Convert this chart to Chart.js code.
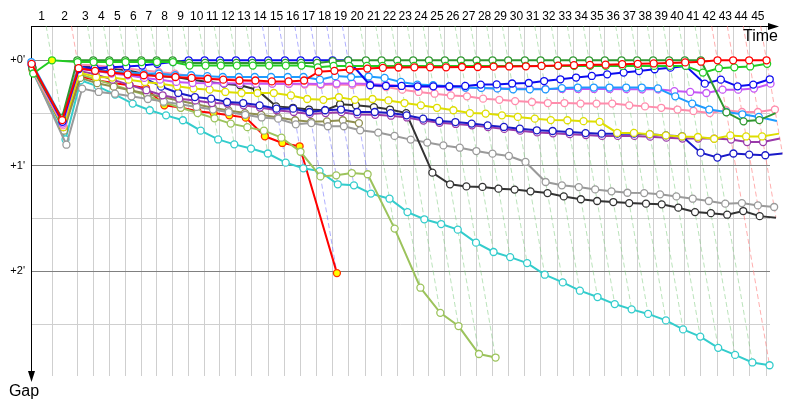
<!DOCTYPE html>
<html>
<head>
<meta charset="utf-8">
<script src="https://cdn.jsdelivr.net/npm/chart.js@4.4.0/dist/chart.umd.min.js"></script>
<style>
  body { margin: 0; background: #fff; }
</style>
</head>
<body>
<canvas id="gapChart" width="800" height="400"></canvas>
<script>
// leader lap times in seconds, lap 1 .. 45
const leaderLapTimes = [70, 84.3, 53.3, 53.3, 53.3, 53.3, 51.3, 53.3, 53.3, 53.3,
  51, 53.3, 53.3, 54.3, 55.7, 52.3, 53.3, 53.3, 52, 59,
  52.3, 52, 53.3, 52.3, 53.3, 53.3, 52.3, 53.3, 52, 55.7,
  52.3, 55.3, 53.3, 53.3, 52.3, 55.7, 52, 53.3, 53.3, 52.3,
  53.3, 55.7, 52, 53.3, 58];

const lapNumbers = ["1","2","3","4","5","6","7","8","9","10","11","12","13","14","15",
  "16","17","18","19","20","21","22","23","24","25","26","27","28","29","30",
  "31","32","33","34","35","36","37","38","39","40","41","42","43","44","45"];

// gap gridlines (seconds) and their labels
const gapTicks = [0, 30, 60, 90, 120, 150];
const gapLabels = { 0: "+0'", 60: "+1'", 120: "+2'" };

// gap to leader (s), index = lap, starting at lap 0 (the start)
const gapDarkGreen = [4.5, 33, 0, 0, 0, 0, 0, 0, 0, 1.5, 1.5, 1.5, 1.5, 1.5, 1.5, 1.5, 1.5, 1.5, 0.5,
  0, 0, 0, 0, 0, 0, 0, 0, 0, 0, 0, 0, 0, 0, 0, 0, 0, 0, 0, 0, 0, 0, 0, 29.6, 34.7, 34, 30];
const gapLime = [7.5, 0, 1, 1, 1, 1, 1, 1, 1, 3, 3, 3, 3, 3, 3, 3, 3, 4, 3.2,
  3.2, 3.2, 3.2, 3.2, 3.2, 3.2, 3.2, 3.2, 3.2, 3.2, 3.2, 3.2, 3.2, 3.2, 3.2, 3.2, 3.2, 3.2, 3.2, 3.2, 3.2, 3.2, 7, 4.5, 4, 3.5, 2];
const gapBlue = [3, 35, 5, 4.5, 4, 3.5, 3, 2, 1, 0, 0, 0, 0, 0, 0, 0, 0, 0, 0, 0,
  14.2, 14.6, 14.6, 14.8, 14.8, 14.8, 14.6, 13.8, 13.7, 13.2, 12.9, 11.8, 10.8, 9.8, 8.9, 8, 7, 6.1, 5.1, 4.2, 3.2,
  13.3, 11, 14.8, 13.8, 10.8];
const gapRed = [2, 34, 4.5, 6, 7, 8, 8.5, 9, 9.5, 10, 10.5, 11, 11.5, 11.5, 12, 12, 11.5, 6.5, 6, 5.3,
  4.7, 4.3, 4.1, 4, 4, 4, 3.8, 3.8, 3.6, 3.5, 3.4, 3.2, 3, 2.8, 2.6, 2.5, 2.2, 2, 1.8, 1.5, 1.2, 0.8, 0, 0, 0, 0];
const gapSkyBlue = [1, 33, 4, 6, 6.5, 7, 7.5, 7.5, 8.5, 8.5, 9, 9.5, 9.5, 9.5, 9.5, 9.5, 9.5, 11, 9, 9.5,
  9.2, 10, 12.3, 13.8, 14.2, 14.8, 15.5, 15.7, 16, 16.5, 16.5, 16.5, 15.8, 15.5, 15.5, 15.5, 15.5, 15.5, 16,
  20.5, 24.6, 28, 29.4, 30.7, 32.2, 34.5];
const gapViolet = [3.5, 36, 5, 6, 7.5, 8.5, 10, 11, 12.3, 12.9, 13, 13.1, 13.2, 13.3, 13.3, 13.3, 13.3, 13.5, 13.2, 13.2,
  13.5, 14, 14.5, 15, 15, 15.3, 15.5, 15.7, 16, 16, 16.2, 16.3, 16.3, 16.3, 16.3, 16.3, 16.4, 16.5, 16.5,
  17.5, 18, 18.6, 16.7, 16.7, 16.1, 13.3];
const gapPink = [6, 37, 2.5, 2.8, 3.8, 4.7, 5.7, 6.6, 7.6, 9.1, 10.4, 10.4, 11, 12.3, 13.3, 13.5, 13.8, 14, 13.8, 14,
  14.2, 15.2, 16.7, 18, 19, 20, 20.5, 21.8, 22.5, 23.2, 23.7, 24.3, 24.3, 24.6, 24.6, 24.6, 25.6, 26.2, 27,
  28, 28.8, 30, 28.4, 29.4, 29.4, 28];
const gapYellow = [5.5, 38, 7, 9.5, 9.8, 11, 12.3, 13.3, 14.8, 16.1, 16.7, 18, 18.6, 18.6, 18.6, 20, 22, 22.5, 21, 22.5,
  22, 22.8, 24.3, 25.6, 27, 28.4, 30, 30.3, 31.3, 32.2, 33.2, 34, 34.1, 34.6, 35, 41.3, 41.3, 42, 42.7,
  43.3, 43.6, 44.6, 42.7, 43.3, 43.3, 41.7];
const gapNavy = [2.5, 35, 3.5, 4.7, 6.6, 7.6, 10, 15, 18.6, 20.9, 21.8, 23.7, 24.3, 25.6, 27.5, 27.5, 29.4, 28.4, 28, 29.4,
  29.4, 30, 31.3, 33.2, 34.5, 35.1, 36, 37, 37.9, 38.9, 39.8, 40.2, 40.8, 41.4, 41.7, 41.7, 41.7, 42.1, 42.7,
  43.2, 52.5, 55.3, 53, 53.6, 54, 53];
const gapPurple = [4, 37, 6, 8, 11, 14, 17, 19.9, 21.8, 22.8, 24.3, 24.6, 25.6, 26.9, 28.4, 29.4, 30.5, 30, 29.5, 30.8,
  31, 31.5, 32.5, 34.3, 35.5, 36.2, 37, 38, 39, 40, 41, 41.5, 42, 42.5, 43, 43, 43, 43.4, 44,
  44.5, 44.5, 44.5, 45.1, 46.5, 46.5, 44.5];
const gapBlack = [4, 38, 2.8, 3.8, 4.7, 5.7, 7.6, 9.1, 9.5, 11, 12.3, 13.3, 14.2, 16.7, 26.2, 27, 28, 28.4, 25, 25.6,
  26.6, 28, 30, 63.9, 70.5, 71.7, 72, 73, 73.5, 74.5, 75.5, 77.4, 79, 80, 80.6, 81.2, 81.5, 81.9, 83.8,
  86.3, 86.9, 87.8, 85.7, 88.6, 89.5];
const gapGrey = [6, 48, 16.1, 18, 19, 20.5, 22, 23.5, 25, 26.5, 28, 29.5, 31, 32.5, 33.2, 36.4, 35.7, 37.5, 37.5, 39.8,
  41.1, 43, 45.1, 46.8, 48.4, 49.7, 51.6, 53.1, 54.4, 57.8, 69.2, 71.1, 72.1, 73.4, 74.5, 75.3, 75.5, 76.2, 77.4,
  78.7, 80, 81.5, 81.2, 82.5, 83.4];
const gapKhaki = [5, 40, 10, 13, 15, 17, 19, 21, 23, 25, 27, 28.5, 30, 31, 32.5, 34.1, 35, 34.7, 34.1, 35.7];
const gapOlive = [4, 36, 8, 11, 14, 17, 20, 24, 27, 30, 33, 36, 38, 40, 44, 52, 66, 65.4, 64.1, 64.8,
  95.7, 129.3, 143.6, 151.1, 167, 169];
const gapCyan = [7, 45, 11.4, 14.8, 19.5, 24.6, 28.4, 31.3, 34.1, 40, 45, 47.8, 50.2, 53, 58.2, 61.4, 63, 70.5, 71.1, 75.8,
  78.7, 86.3, 90.4, 93.1, 96.3, 103.7, 109, 111.9, 115.3, 121.9, 126.3, 131, 134.6, 138.6, 141.6, 144.2, 147.9, 153,
  157.1, 163.5, 167.5, 171.8, 173.4];
const gapRedYellow = [5, 39, 9.1, 11.4, 12.9, 14.2, 15.8, 25.6, 26.9, 29, 30, 31.3, 32.6, 43.2, 47, 48.9, 121];

const drivers = [
  { gaps: gapRed, color: "#ff0000" },
  { gaps: gapLime, color: "#22cc22" },
  { gaps: gapDarkGreen, color: "#2f972f" },
  { gaps: gapBlue, color: "#0c0cf0" },
  { gaps: gapSkyBlue, color: "#1e9bff" },
  { gaps: gapViolet, color: "#c455f5" },
  { gaps: gapPink, color: "#ff8cac" },
  { gaps: gapYellow, color: "#dede00" },
  { gaps: gapNavy, color: "#1a1ac8" },
  { gaps: gapPurple, color: "#9a3aaa" },
  { gaps: gapBlack, color: "#333333" },
  { gaps: gapGrey, color: "#9a9a9a" },
  { gaps: gapKhaki, color: "#8f8f50" },
  { gaps: gapOlive, color: "#9cc35c" },
  { gaps: gapCyan, color: "#33cccc" },
  { gaps: gapRedYellow, color: "#ff0000", fill: "#ffff00", ring: "#ff3300" }
];

// cumulative time of the leader at the end of each lap
const leaderTimes = [0];
leaderLapTimes.forEach(t => leaderTimes.push(leaderTimes[leaderTimes.length - 1] + t));

const gapMin = -19.5;
const gapMax = 179.5;

function lapLineColor(lap) {
  if (lap === 2 || lap >= 42) return "rgba(255,120,120,0.6)";
  if (lap >= 14 && lap <= 19) return "rgba(110,110,255,0.55)";
  return "rgba(120,200,120,0.5)";
}

const datasets = [];

drivers.forEach((d, i) => {
  const fills = d.gaps.map((g, lap) => d.fill || ((d.gaps === gapLime && lap === 1) ? "#ffff00" : "#ffffff"));
  datasets.push({
    data: d.gaps.map((g, lap) => ({ x: leaderTimes[lap] + g, y: g })),
    showLine: true,
    borderColor: d.color,
    borderWidth: 2,
    pointRadius: 3.5,
    pointBorderWidth: 1.3,
    pointBorderColor: d.ring || d.color,
    pointBackgroundColor: fills,
    tension: 0,
    clip: false,
    order: i + 1
  });
});

// dashed lines joining each lap's crossing times
for (let lap = 1; lap < leaderTimes.length; lap++) {
  let worst = 0;
  drivers.forEach(d => {
    if (lap < d.gaps.length && d.gaps[lap] > worst) worst = d.gaps[lap];
  });
  datasets.push({
    data: [
      { x: leaderTimes[lap] + gapMin, y: gapMin },
      { x: leaderTimes[lap] + worst, y: worst }
    ],
    showLine: true,
    borderColor: lapLineColor(lap),
    borderWidth: 1,
    borderDash: [5, 3],
    pointRadius: 0,
    clip: false,
    order: 200
  });
}

const axesPlugin = {
  id: "gapAxes",
  beforeDatasetsDraw(chart) {
    const { ctx, chartArea } = chart;
    ctx.save();
    ctx.strokeStyle = "#000";
    ctx.fillStyle = "#000";
    ctx.lineWidth = 1;
    // time axis along the top
    ctx.beginPath();
    ctx.moveTo(chartArea.left, chartArea.top + 0.5);
    ctx.lineTo(chartArea.right + 4, chartArea.top + 0.5);
    ctx.stroke();
    ctx.beginPath();
    ctx.moveTo(chartArea.right + 9, chartArea.top + 0.5);
    ctx.lineTo(chartArea.right - 2, chartArea.top - 3);
    ctx.lineTo(chartArea.right - 2, chartArea.top + 4);
    ctx.closePath();
    ctx.fill();
    // gap axis down the left
    ctx.beginPath();
    ctx.moveTo(chartArea.left + 0.5, chartArea.top);
    ctx.lineTo(chartArea.left + 0.5, chartArea.bottom + 2);
    ctx.stroke();
    ctx.beginPath();
    ctx.moveTo(chartArea.left + 0.5, chartArea.bottom + 6);
    ctx.lineTo(chartArea.left - 3, chartArea.bottom - 5);
    ctx.lineTo(chartArea.left + 4, chartArea.bottom - 5);
    ctx.closePath();
    ctx.fill();
    ctx.restore();
  },
  afterDraw(chart) {
    const { ctx, chartArea, scales } = chart;
    ctx.save();
    ctx.fillStyle = "#000";
    ctx.font = "12px 'Liberation Sans', Arial, sans-serif";
    ctx.textAlign = "center";
    ctx.textBaseline = "middle";
    lapNumbers.forEach((label, i) => {
      const a = scales.x.getPixelForValue(leaderTimes[i]);
      const b = scales.x.getPixelForValue(leaderTimes[i + 1]);
      ctx.fillText(label, (a + b) / 2, 17);
    });
    ctx.font = "11px 'Liberation Sans', Arial, sans-serif";
    ctx.textAlign = "right";
    gapTicks.forEach(v => {
      if (gapLabels[v] !== undefined) {
        ctx.fillText(gapLabels[v], chartArea.left - 6, scales.y.getPixelForValue(v));
      }
    });
    ctx.font = "16px 'Liberation Sans', Arial, sans-serif";
    ctx.textAlign = "right";
    ctx.textBaseline = "top";
    ctx.fillText("Time", chartArea.right + 8, chartArea.top + 3);
    ctx.textAlign = "center";
    ctx.fillText("Gap", chartArea.left - 7, chartArea.bottom + 8);
    ctx.restore();
  }
};

new Chart(document.getElementById("gapChart"), {
  type: "scatter",
  data: { datasets: datasets },
  options: {
    responsive: false,
    animation: false,
    events: [],
    layout: { padding: { left: 31, top: 26, right: 30, bottom: 24 } },
    plugins: { legend: { display: false }, tooltip: { enabled: false } },
    scales: {
      x: {
        type: "linear",
        position: "top",
        min: 0,
        max: 2463,
        afterBuildTicks: axis => { axis.ticks = leaderTimes.slice(1).map(v => ({ value: v })); },
        ticks: { display: false },
        border: { display: false },
        grid: { color: "#cfcfcf", drawTicks: false, tickLength: 0 }
      },
      y: {
        type: "linear",
        reverse: true,
        min: gapMin,
        max: gapMax,
        afterBuildTicks: axis => { axis.ticks = gapTicks.map(v => ({ value: v })); },
        ticks: { display: false },
        border: { display: false },
        grid: {
          color: c => (c.tick && c.tick.value % 60 === 0) ? "#808080" : "#cfcfcf",
          drawTicks: false,
          tickLength: 0
        }
      }
    }
  },
  plugins: [axesPlugin]
});
</script>
</body>
</html>
